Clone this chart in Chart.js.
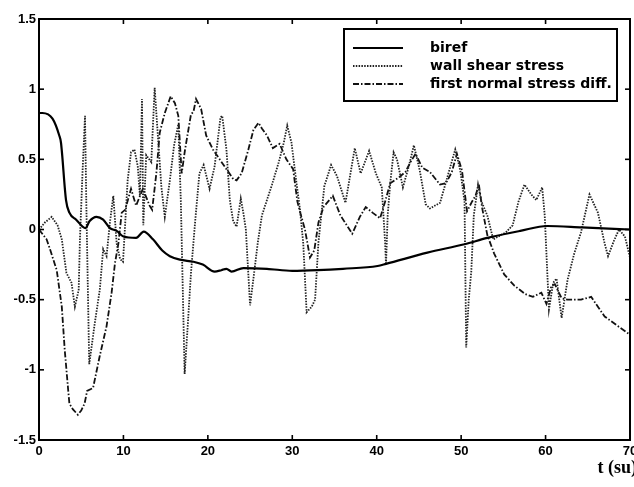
<!DOCTYPE html>
<html><head><meta charset="utf-8">
<script src="https://cdn.jsdelivr.net/npm/chart.js@4.4.1/dist/chart.umd.min.js"></script>
<style>html,body{margin:0;padding:0;background:#fff}</style>
</head><body>
<canvas id="c" width="634" height="487"></canvas>
<script>
const seriesNames = ['biref', 'wall shear stress', 'first normal stress diff.'];

const birefT = [0,0.4,1.6,2.4,2.6,3.2,3.6,4.4,5.5,6.0,6.8,7.6,8.4,9.2,10,11.5,12.4,13.5,14.6,15.5,16.7,18.3,19.4,20.8,21.6,22.2,22.8,24.2,27,30,33,36,40.1,41.1,46,50.4,53.1,57,60.2,64.3,70];
const birefV = [0.83,0.83,0.79,0.67,0.62,0.21,0.12,0.07,0.01,0.06,0.09,0.07,0.01,-0.01,-0.05,-0.06,-0.015,-0.07,-0.15,-0.19,-0.215,-0.23,-0.25,-0.3,-0.29,-0.28,-0.3,-0.275,-0.28,-0.295,-0.29,-0.28,-0.26,-0.245,-0.165,-0.105,-0.06,-0.01,0.025,0.015,0.0];

const wallT = [0,0.7,1.5,2.2,2.7,3.25,3.85,4.25,4.7,4.85,5.15,5.45,5.6,5.95,6.6,7.2,7.6,8.0,8.4,8.8,9.2,9.6,9.95,10.5,10.9,11.3,11.7,11.95,12.2,12.35,12.7,13.3,13.7,14.1,14.5,14.9,15.5,16.0,16.5,16.8,17.25,17.6,18.0,18.5,19.0,19.5,20.2,20.8,21.5,21.7,22.2,22.6,23.0,23.4,23.9,24.2,24.5,25.0,25.5,25.9,26.4,27.6,28.4,29.0,29.4,29.9,30.5,30.9,31.3,31.7,32.3,32.7,33.1,33.8,34.6,35.3,36.3,37.4,38.1,39.1,39.9,40.6,41.0,41.1,41.3,41.6,42.0,42.4,43.1,43.8,44.4,45.1,45.8,46.3,47.5,48.4,49.3,49.9,50.4,50.6,50.9,51.2,51.5,52.0,52.4,53.1,53.8,55.3,56.1,56.8,57.5,58.3,58.9,59.6,59.9,60.4,60.9,61.3,61.9,62.6,63.4,64.2,65.2,66.2,67.0,67.4,68.1,68.7,69.4,70.0];
const wallV = [0,0.05,0.09,0.03,-0.07,-0.31,-0.38,-0.55,-0.43,-0.07,0.4,0.81,0.2,-0.96,-0.67,-0.43,-0.14,-0.19,0.05,0.24,-0.1,-0.21,-0.23,0.35,0.55,0.57,0.45,0.24,0.93,0.03,0.53,0.48,1.01,0.65,0.3,0.09,0.35,0.6,0.75,0.2,-1.03,-0.7,-0.31,0.06,0.4,0.46,0.29,0.45,0.8,0.81,0.57,0.21,0.06,0.02,0.22,0.12,0.0,-0.54,-0.3,-0.1,0.1,0.32,0.48,0.62,0.74,0.62,0.33,0.15,-0.1,-0.59,-0.55,-0.5,-0.09,0.31,0.46,0.38,0.19,0.58,0.4,0.56,0.4,0.3,-0.1,-0.25,0.1,0.33,0.55,0.5,0.3,0.45,0.6,0.42,0.18,0.15,0.19,0.38,0.57,0.42,0.2,-0.84,-0.5,-0.3,0.1,0.32,0.2,0.1,-0.07,-0.02,0.03,0.2,0.32,0.25,0.21,0.3,0.1,-0.57,-0.38,-0.35,-0.63,-0.36,-0.17,-0.02,0.25,0.12,-0.1,-0.19,-0.08,0.0,-0.05,-0.2];

const normT = [0,0.9,1.3,2.1,2.7,3.05,3.45,3.6,4.0,4.6,5.0,5.4,5.7,6.4,7.2,8.0,8.6,9.0,9.4,9.8,10.2,10.9,11.5,12.3,13.1,13.4,13.9,14.3,14.9,15.6,16.1,16.5,16.9,17.3,18.0,18.3,18.6,19.2,19.8,20.6,21.4,22.2,23.0,23.4,24.0,24.8,25.4,26.0,26.4,27.0,27.7,28.5,29.3,30.1,30.6,30.9,31.5,32.1,32.6,33.1,33.7,34.8,35.7,37.1,38.0,38.7,39.5,40.4,41.0,41.6,42.6,43.4,44.0,44.6,45.4,46.3,47.5,48.2,48.9,49.5,50.1,50.7,51.3,51.7,52.1,52.5,53.1,53.9,55.1,56.3,57.6,58.5,59.5,60.1,60.7,61.1,61.9,62.6,64.2,65.4,66.2,67.0,68.6,70.0];
const normV = [0,-0.07,-0.14,-0.29,-0.55,-0.86,-1.14,-1.24,-1.28,-1.32,-1.29,-1.24,-1.15,-1.13,-0.9,-0.69,-0.45,-0.24,-0.1,0.12,0.14,0.29,0.17,0.29,0.17,0.14,0.4,0.69,0.83,0.95,0.9,0.81,0.4,0.57,0.82,0.84,0.93,0.86,0.67,0.57,0.5,0.43,0.36,0.35,0.4,0.57,0.71,0.76,0.72,0.67,0.58,0.61,0.5,0.43,0.2,0.13,0.0,-0.2,-0.15,0.05,0.16,0.24,0.1,-0.03,0.09,0.16,0.12,0.08,0.2,0.33,0.37,0.41,0.48,0.54,0.44,0.41,0.32,0.33,0.41,0.54,0.42,0.13,0.2,0.24,0.32,0.15,-0.04,-0.17,-0.32,-0.4,-0.46,-0.48,-0.45,-0.53,-0.4,-0.39,-0.49,-0.5,-0.5,-0.48,-0.55,-0.62,-0.69,-0.75];

const xTickValues = [0,10,20,30,40,50,60,70];
const xTickLabels = ['0','10','20','30','40','50','60','70'];
const yTickValues = [-1.5,-1,-0.5,0,0.5,1,1.5];
const yTickLabels = ['-1.5','-1','-0.5','0','0.5','1','1.5'];
const xAxisTitle = 't (su)';

const pts = (T, V) => T.map((t, i) => ({x: t, y: V[i]}));

const tickFont = {family: '"Liberation Sans", Arial, sans-serif', size: 13, weight: 'bold'};

const framePlugin = {
  id: 'frame',
  afterDatasetsDraw(chart) {
    const {ctx, chartArea: a, scales: {x, y}} = chart;
    ctx.save();
    ctx.strokeStyle = '#000';
    ctx.lineWidth = 1.6;
    const L = 5;
    const seg = (x1, y1, x2, y2) => { ctx.beginPath(); ctx.moveTo(x1, y1); ctx.lineTo(x2, y2); ctx.stroke(); };
    x.ticks.forEach(t => { const p = x.getPixelForValue(t.value); seg(p, a.bottom, p, a.bottom - L); seg(p, a.top, p, a.top + L); });
    y.ticks.forEach(t => { const p = y.getPixelForValue(t.value); seg(a.left, p, a.left + L, p); seg(a.right, p, a.right - L, p); });
    ctx.lineWidth = 2;
    ctx.strokeRect(a.left, a.top, a.right - a.left, a.bottom - a.top);
    // axis title, bottom right
    ctx.fillStyle = '#000';
    ctx.font = 'bold 18px "Liberation Serif", "DejaVu Serif", serif';
    ctx.textAlign = 'right';
    ctx.textBaseline = 'alphabetic';
    ctx.fillText(xAxisTitle, a.right + 7, a.bottom + 33);
    ctx.restore();
  }
};

const legendPlugin = {
  id: 'boxLegend',
  afterDraw(chart) {
    const {ctx, chartArea: a} = chart;
    const w = 273, h = 72;
    const bx = a.right - 13 - w, by = a.top + 10;
    ctx.save();
    ctx.fillStyle = '#fff';
    ctx.fillRect(bx, by, w, h);
    ctx.strokeStyle = '#000';
    ctx.lineWidth = 2;
    ctx.strokeRect(bx, by, w, h);
    ctx.font = 'bold 14px "DejaVu Sans", sans-serif';
    ctx.textBaseline = 'middle';
    ctx.fillStyle = '#000';
    chart.data.datasets.forEach((ds, i) => {
      const yy = by + 19 + i * 18;
      ctx.save();
      ctx.strokeStyle = ds.borderColor;
      ctx.lineWidth = ds.borderWidth;
      ctx.setLineDash(ds.borderDash || []);
      ctx.beginPath(); ctx.moveTo(bx + 9, yy); ctx.lineTo(bx + 59, yy); ctx.stroke();
      ctx.restore();
      ctx.fillText(ds.label, bx + 86, yy);
    });
    ctx.restore();
  }
};

new Chart(document.getElementById('c'), {
  type: 'line',
  data: {
    datasets: [
      {label: seriesNames[0], data: pts(birefT, birefV), borderColor: '#000', borderWidth: 2.2, cubicInterpolationMode: 'monotone', pointRadius: 0, fill: false},
      {label: seriesNames[1], data: pts(wallT, wallV), borderColor: '#222', borderWidth: 1.8, borderDash: [1.5, 1.3], pointRadius: 0, fill: false},
      {label: seriesNames[2], data: pts(normT, normV), borderColor: '#111', borderWidth: 1.8, borderDash: [6, 2, 1.5, 2], pointRadius: 0, fill: false}
    ]
  },
  options: {
    responsive: false,
    animation: false,
    devicePixelRatio: 1,
    layout: {padding: {top: 19, right: 4, left: 0, bottom: 0}},
    plugins: {legend: {display: false}, tooltip: {enabled: false}},
    scales: {
      x: {
        type: 'linear', min: 0, max: 70,
        afterBuildTicks(s) { s.ticks = xTickValues.map(v => ({value: v})); },
        afterFit(s) { s.height = 47; s.paddingLeft = 0; s.paddingRight = 0; },
        grid: {display: false, drawTicks: false},
        border: {display: false},
        ticks: {padding: 4, color: '#000', font: tickFont, maxRotation: 0, autoSkip: false,
          callback: v => xTickLabels[xTickValues.indexOf(v)]},
        title: {display: false, text: xAxisTitle}
      },
      y: {
        type: 'linear', min: -1.5, max: 1.5,
        afterBuildTicks(s) { s.ticks = yTickValues.map(v => ({value: v})); },
        afterFit(s) { s.width = 39; s.paddingTop = 0; s.paddingBottom = 0; },
        grid: {display: false, drawTicks: false},
        border: {display: false},
        ticks: {padding: 3, color: '#000', font: tickFont, autoSkip: false,
          callback: v => yTickLabels[yTickValues.indexOf(v)]}
      }
    }
  },
  plugins: [framePlugin, legendPlugin]
});
</script>
</body></html>
